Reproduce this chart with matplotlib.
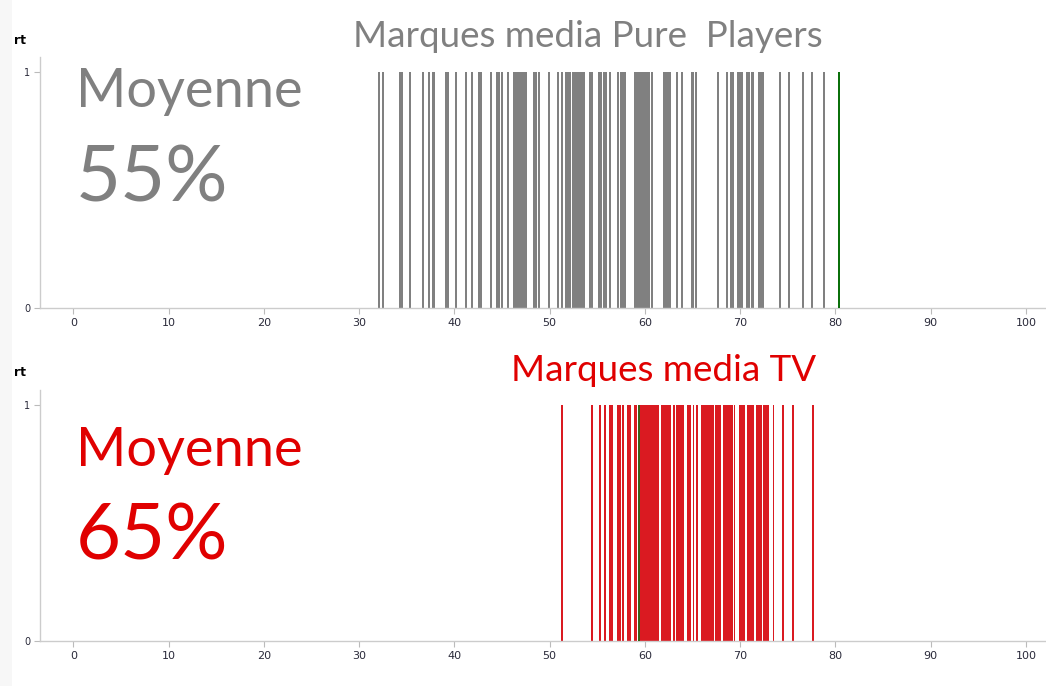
import matplotlib
matplotlib.use("Agg")
import matplotlib.pyplot as plt
from matplotlib.patches import Rectangle

# Scores per brand (percent), one vertical bar each
pure_player_scores = [
    32.1, 32.5, 34.3, 34.5, 35.3, 36.7, 37.3, 37.7, 37.9, 39.1, 39.3, 40.2,
    41.2, 41.8, 42.6, 42.8, 43.8, 44.5, 44.7, 45.0, 45.6, 46.3, 46.5, 46.7,
    46.9, 47.1, 47.3, 47.5, 48.4, 48.6, 48.9, 49.9, 50.9, 51.3, 51.7, 51.9,
    52.1, 52.4, 52.6, 52.8, 53.0, 53.2, 53.4, 53.6, 54.2, 54.4, 55.2, 55.4,
    55.7, 55.9, 56.3, 57.2, 57.5, 57.7, 57.9, 59.0, 59.2, 59.4, 59.6, 59.8,
    60.0, 60.2, 60.4, 60.7, 62.0, 62.2, 62.4, 62.6, 63.4, 63.9, 64.9, 65.1,
    65.4, 67.7, 68.6, 69.0, 69.2, 69.8, 70.0, 70.2, 70.7, 70.9, 71.2, 71.4,
    72.0, 72.2, 72.4, 74.2, 75.1, 76.6, 77.5, 78.8,
]
pure_player_marker = 80.4

tv_scores = [
    51.3, 54.4, 55.3, 55.8, 56.3, 56.5, 57.2, 57.4, 57.7, 58.2, 58.4, 58.9,
    59.1, 59.6, 59.8, 60.0, 60.2, 60.4, 60.6, 60.8, 61.0, 61.2, 61.4, 61.8,
    62.0, 62.2, 62.4, 62.6, 63.0, 63.1, 63.4, 63.6, 63.8, 64.0, 64.5, 64.7,
    65.1, 65.5, 66.0, 66.2, 66.4, 66.6, 66.8, 67.0, 67.2, 67.5, 67.7, 67.9,
    68.3, 68.5, 68.7, 68.9, 69.1, 69.4, 70.0, 70.2, 70.4, 70.8, 71.0, 71.2,
    71.4, 71.8, 72.0, 72.2, 72.5, 72.7, 72.9, 73.5, 74.5, 75.5, 77.6,
]
tv_marker = 59.4

x_ticks = [0, 10, 20, 30, 40, 50, 60, 70, 80, 90, 100]
y_ticks = [0, 1]

panels = [
    dict(scores=pure_player_scores, marker=pure_player_marker,
         title="Marques media Pure  Players", avg="55%",
         bar_color="#808080", text_color="#808080", marker_color="#0b700b"),
    dict(scores=tv_scores, marker=tv_marker,
         title="Marques media TV", avg="65%",
         bar_color="#da1a21", text_color="#e00000", marker_color="#3a5f17"),
]

W, H = 1046, 686
fig = plt.figure(figsize=(W / 100, H / 100), dpi=100, facecolor="white")


def fx(x):
    return x / W


def fy(y):
    return 1 - y / H


# light slide background strip on the left edge
fig.patches.append(Rectangle((0, 0), fx(12), 1, transform=fig.transFigure,
                             facecolor="#f7f7f7", edgecolor="none", zorder=0))

FONT = "Lato"
layout = [
    dict(top=57, bottom=308, title_x=588, title_y=47, rt_y=40,
         moy_y=107, pct_y=201),
    dict(top=390, bottom=641, title_x=664, title_y=381, rt_y=372,
         moy_y=466, pct_y=560),
]

for p, L in zip(panels, layout):
    ax = fig.add_axes([fx(40), fy(L["bottom"]), 1 - fx(40),
                       (L["bottom"] - L["top"]) / H])
    ax.bar(p["scores"], [1] * len(p["scores"]), width=0.2,
           color=p["bar_color"], linewidth=0, zorder=2)
    ax.bar([p["marker"]], [1], width=0.25, color=p["marker_color"],
           linewidth=0, zorder=3)
    ax.set_xlim(-3.5, 102.1)
    ax.set_ylim(0, 1.064)
    ax.set_xticks(x_ticks)
    ax.set_yticks(y_ticks)
    for s in ("top", "right"):
        ax.spines[s].set_visible(False)
    for s in ("left", "bottom"):
        ax.spines[s].set_color("#cccccc")
        ax.spines[s].set_linewidth(1.0)
    ax.tick_params(axis="both", colors="#bbbbbb", labelcolor="#2a2a3a",
                   length=4, width=0.8, pad=3)
    ax.tick_params(axis="x", labelsize=8)
    ax.tick_params(axis="y", labelsize=7)
    ax.set_facecolor("white")

    fig.text(fx(14), fy(L["rt_y"]), "rt", fontsize=9, fontweight="bold",
             color="black", va="center", ha="left", family="DejaVu Sans")
    fig.text(fx(L["title_x"]), fy(L["title_y"]), p["title"], fontsize=26.5,
             color=p["text_color"], ha="center", va="baseline", family=FONT)
    fig.text(fx(76), fy(L["moy_y"]), "Moyenne", fontsize=39,
             color=p["text_color"], ha="left", va="baseline", family=FONT)
    fig.text(fx(76), fy(L["pct_y"]), p["avg"], fontsize=56,
             color=p["text_color"], ha="left", va="baseline", family=FONT)

fig.savefig("out.png", dpi=100, facecolor="white")
